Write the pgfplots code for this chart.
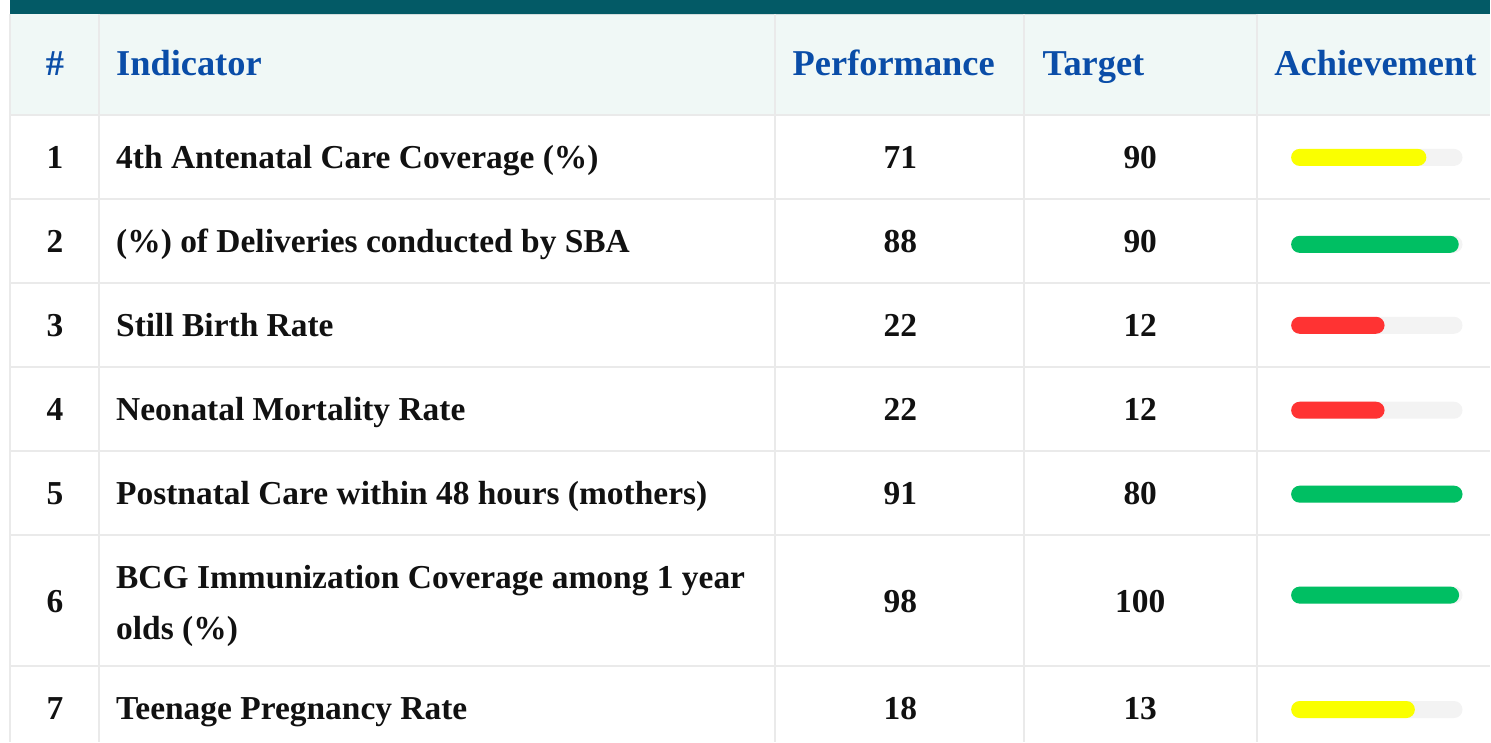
\documentclass[border=0pt]{standalone}
\usepackage{pgfplots}
\pgfplotsset{compat=1.18}
\usepackage{fontspec}
\setmainfont{Liberation Serif}
\definecolor{topbar}{HTML}{035A66}
\definecolor{hdrbg}{HTML}{F0F8F6}
\definecolor{hdrtxt}{HTML}{0A4DA8}
\definecolor{gridc}{HTML}{EAEAEA}
\definecolor{hline}{HTML}{D2DDDD}
\definecolor{track}{HTML}{F3F3F3}
\definecolor{ylw}{HTML}{FAFF00}
\definecolor{grn}{HTML}{00BF63}
\definecolor{rd}{HTML}{FF3333}
\definecolor{bodytxt}{HTML}{111111}
\newcommand{\hdr}{\fontsize{27.3}{30}\selectfont\bfseries\color{hdrtxt}}
\newcommand{\bdy}{\fontsize{25.1}{38.25}\selectfont\bfseries\color{bodytxt}}
\newcommand{\hrl}[1]{\draw[gridc, line width=1.5pt] (axis cs:10,#1) -- (axis cs:1491,#1);}
\newcommand{\vrl}[1]{\draw[gridc, line width=1.5pt] (axis cs:#1,14) -- (axis cs:#1,742);}
\newcommand{\trow}[5]{%
  \node[anchor=base, inner sep=0pt, font=\bdy] at (axis cs:55,#2) {#1};
  \node[anchor=base west, inner sep=0pt, font=\bdy] at (axis cs:116,#2) {#5};
  \node[anchor=base, inner sep=0pt, font=\bdy] at (axis cs:901,#2) {#3};
  \node[anchor=base, inner sep=0pt, font=\bdy] at (axis cs:1141,#2) {#4};}
\begin{document}
\begin{tikzpicture}
% ---- table frame, text (pixel coordinates) ----
\begin{axis}[
  scale only axis, width=1118.25pt, height=556.5pt,
  xmin=0, xmax=1491, ymin=0, ymax=742, y dir=reverse,
  hide axis, clip=false]
  \path (axis cs:0,0) rectangle (axis cs:1491,742);
  \fill[topbar] (axis cs:10,0) rectangle (axis cs:1491,14);
  \fill[hdrbg] (axis cs:10,14) rectangle (axis cs:1491,115);
  \draw[hline, line width=0.75pt] (axis cs:99,14.5) -- (axis cs:1258,14.5);
  \hrl{115}\hrl{199}\hrl{283}\hrl{367}\hrl{451}\hrl{535}\hrl{666}
  \vrl{10}\vrl{99}\vrl{776}\vrl{1025}\vrl{1258}
  % header
  \node[anchor=base, inner sep=0pt, font=\hdr] at (axis cs:55,75.5) {\#};
  \node[anchor=base west, inner sep=0pt, font=\hdr] at (axis cs:116,75.5) {Indicator};
  \node[anchor=base west, inner sep=0pt, font=\hdr] at (axis cs:793,75.5) {Performance};
  \node[anchor=base west, inner sep=0pt, font=\hdr] at (axis cs:1043,75.5) {Target};
  \node[anchor=base west, inner sep=0pt, font=\hdr] at (axis cs:1275,75.5) {Achievement};
  % rows
  \trow{1}{169}{71}{90}{4th Antenatal Care Coverage (\%)}
  \trow{2}{253}{88}{90}{(\%) of Deliveries conducted by SBA}
  \trow{3}{337}{22}{12}{Still Birth Rate}
  \trow{4}{421}{22}{12}{Neonatal Mortality Rate}
  \trow{5}{505}{91}{80}{Postnatal Care within 48 hours (mothers)}
  \trow{7}{720}{18}{13}{Teenage Pregnancy Rate}
  \node[anchor=base, inner sep=0pt, font=\bdy] at (axis cs:55,613) {6};
  \node[anchor=base west, inner sep=0pt, font=\bdy] at (axis cs:116,589) {BCG Immunization Coverage among 1 year};
  \node[anchor=base west, inner sep=0pt, font=\bdy] at (axis cs:116,640) {olds (\%)};
  \node[anchor=base, inner sep=0pt, font=\bdy] at (axis cs:901,613) {98};
  \node[anchor=base, inner sep=0pt, font=\bdy] at (axis cs:1141,613) {100};
\end{axis}
% ---- achievement bars: 0..100 % mapped onto x = 1292..1463.5 px ----
\begin{axis}[
  scale only axis, width=1118.25pt, height=556.5pt,
  xmin=-753.4, xmax=116.0, ymin=0, ymax=742, y dir=reverse,
  hide axis, clip=false]
  \addplot[xbar, bar shift=0pt, bar width=12.75pt, rounded corners=6.375pt, fill=track, draw=none]
    coordinates {(100,157.5) (100,244.5) (100,325.5) (100,410.5) (100,494.5) (100,595.5) (100,710)};
  \addplot[xbar, bar shift=0pt, bar width=12.75pt, rounded corners=6.375pt, fill=ylw, draw=none]
    coordinates {(78.9,157.5) (72.2,710)};
  \addplot[xbar, bar shift=0pt, bar width=12.75pt, rounded corners=6.375pt, fill=grn, draw=none]
    coordinates {(97.8,244.5) (100,494.5) (98,595.5)};
  \addplot[xbar, bar shift=0pt, bar width=12.75pt, rounded corners=6.375pt, fill=rd, draw=none]
    coordinates {(54.5,325.5) (54.5,410.5)};
\end{axis}
\end{tikzpicture}
\end{document}
